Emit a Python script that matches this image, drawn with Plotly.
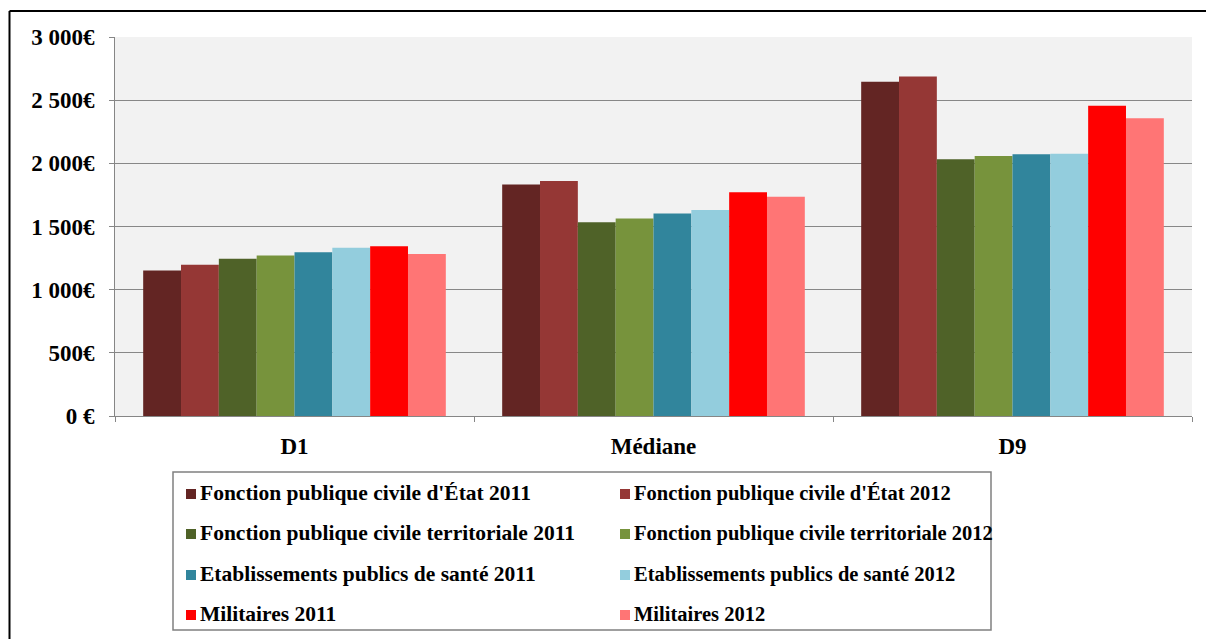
import plotly.graph_objects as go

# Déciles de salaire net mensuel par versant de la fonction publique
categories = ["D1", "Médiane", "D9"]
series_names = [
    "Fonction publique civile d'État 2011",
    "Fonction publique civile d'État 2012",
    "Fonction publique civile territoriale 2011",
    "Fonction publique civile territoriale 2012",
    "Etablissements publics de santé 2011",
    "Etablissements publics de santé 2012",
    "Militaires 2011",
    "Militaires 2012",
]
etat_2011 = [1151, 1833, 2645]
etat_2012 = [1198, 1860, 2688]
territoriale_2011 = [1244, 1534, 2032]
territoriale_2012 = [1270, 1563, 2058]
sante_2011 = [1296, 1603, 2071]
sante_2012 = [1331, 1630, 2076]
militaires_2011 = [1344, 1772, 2455]
militaires_2012 = [1283, 1736, 2357]
series_values = [etat_2011, etat_2012, territoriale_2011, territoriale_2012,
                 sante_2011, sante_2012, militaires_2011, militaires_2012]
colors = ["#632523", "#953735", "#4F6228", "#77933C",
          "#31859C", "#93CDDD", "#FF0000", "#FF7575"]

tick_vals = [0, 500, 1000, 1500, 2000, 2500, 3000]
tick_text = ["0 €", "500€", "1 000€", "1 500€", "2 000€", "2 500€", "3 000€"]

W, H = 1206, 639
L, R, T, B = 115, 14, 37, 223
pw, ph = W - L - R, H - T - B


def px_x(x):
    return (x - L) / pw


def px_y(y):
    return (H - B - y) / ph


FONT = "Liberation Serif"

fig = go.Figure()
for name, vals, col in zip(series_names, series_values, colors):
    fig.add_trace(go.Bar(x=categories, y=vals, name=name,
                         marker=dict(color=col, line=dict(width=0)),
                         showlegend=False))

shapes = []
annotations = []

# cadre extérieur (bords gauche et haut)
shapes.append(dict(type="line", xref="paper", yref="paper",
                   x0=px_x(9.5), x1=px_x(1206), y0=px_y(11), y1=px_y(11),
                   line=dict(color="black", width=2)))
shapes.append(dict(type="line", xref="paper", yref="paper",
                   x0=px_x(9.5), x1=px_x(9.5), y0=px_y(11), y1=px_y(639),
                   line=dict(color="black", width=2)))

# légende sur deux colonnes
lx0, lx1, ly0, ly1 = 173, 991, 472, 630
shapes.append(dict(type="rect", xref="paper", yref="paper",
                   x0=px_x(lx0), x1=px_x(lx1), y0=px_y(ly0), y1=px_y(ly1),
                   line=dict(color="#808080", width=1.5), fillcolor="white",
                   layer="below"))
col_sq = [186, 620]
col_font = [21.5, 20.5]
row_y = [494, 534, 575, 615]
for i, (name, col) in enumerate(zip(series_names, colors)):
    c, r = i % 2, i // 2
    sx, sy = col_sq[c], row_y[r]
    shapes.append(dict(type="rect", xref="paper", yref="paper",
                       x0=px_x(sx), x1=px_x(sx + 10), y0=px_y(sy - 5), y1=px_y(sy + 5),
                       line=dict(width=0), fillcolor=col))
    annotations.append(dict(xref="paper", yref="paper", x=px_x(sx + 12), y=px_y(sy - 1),
                            xanchor="left", yanchor="middle", showarrow=False,
                            text="<b>" + name + "</b>",
                            font=dict(family=FONT, size=col_font[c], color="black")))

fig.update_layout(
    width=W, height=H,
    margin=dict(l=L, r=R, t=T, b=B, pad=0),
    paper_bgcolor="white",
    plot_bgcolor="#F2F2F2",
    barmode="group",
    bargap=0.157,
    bargroupgap=0,
    showlegend=False,
    font=dict(family=FONT, color="black"),
    shapes=shapes,
    annotations=annotations,
    xaxis=dict(
        tickvals=categories, ticktext=[f"<b>{c}</b>" for c in categories],
        showline=True, linecolor="#868686", linewidth=1,
        ticks="outside", ticklen=5, tickcolor="#868686",
        tickson="boundaries",
        tickfont=dict(family=FONT, size=23, color="black"),
        ticklabelstandoff=9,
        showgrid=False,
    ),
    yaxis=dict(
        range=[0, 3000],
        tickvals=tick_vals, ticktext=[f"<b>{t}</b>" for t in tick_text],
        showline=True, linecolor="#868686", linewidth=1,
        ticks="outside", ticklen=5, tickcolor="#868686",
        showgrid=True, gridcolor="#878787", gridwidth=1,
        tickfont=dict(family=FONT, size=23, color="black"),
        ticklabelstandoff=10,
        zeroline=False,
    ),
)

fig.write_html("out.html")
